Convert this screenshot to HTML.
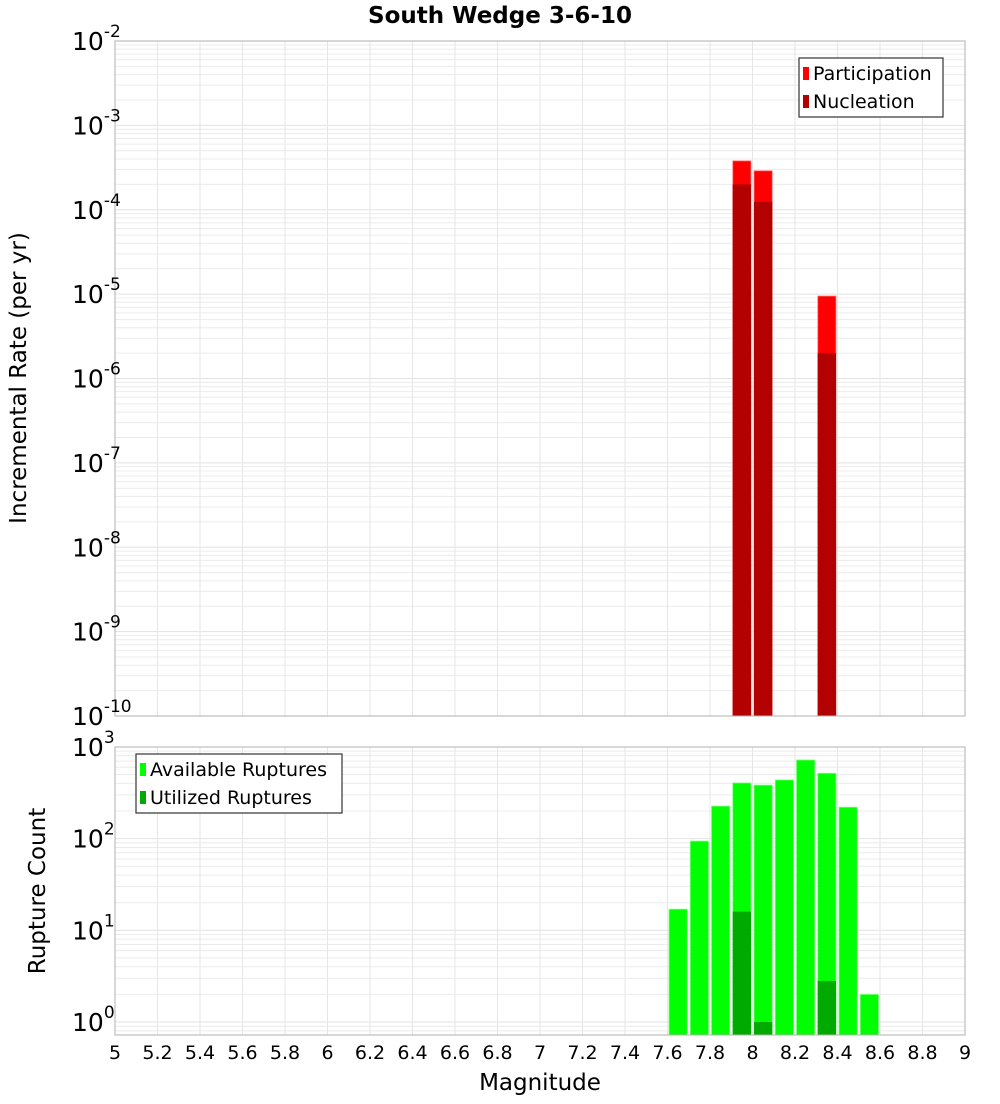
<!DOCTYPE html>
<html><head><meta charset="utf-8"><style>
body{margin:0;background:#fff;font-family:"DejaVu Sans","Liberation Sans",sans-serif;}
</style></head><body>
<svg id="c" width="1000" height="1100" xmlns="http://www.w3.org/2000/svg" font-family="DejaVu Sans, Liberation Sans, sans-serif">
<text x="500" y="23" text-anchor="middle" font-size="23" font-weight="bold">South Wedge 3-6-10</text>
<text transform="translate(26,378) rotate(-90)" text-anchor="middle" font-size="23">Incremental Rate (per yr)</text>
<text transform="translate(45,891) rotate(-90)" text-anchor="middle" font-size="23">Rupture Count</text>
<text x="540" y="1090" text-anchor="middle" font-size="23">Magnitude</text>
</svg>
<script>
const mags = [7.6,7.7,7.8,7.9,8.0,8.1,8.2,8.3,8.4,8.5];
const availCounts = [17,94,226,405,383,436,720,516,220,2];
const utilCounts = [0,0,0,16,1,0,0,2.8,0,0];
const rateMags = [7.9,8.0,8.3];
const participation = [3.8e-4,2.9e-4,9.5e-6];
const nucleation = [2.0e-4,1.24e-4,2.0e-6];
const xTicks = [5,5.2,5.4,5.6,5.8,6,6.2,6.4,6.6,6.8,7,7.2,7.4,7.6,7.8,8,8.2,8.4,8.6,8.8,9];
const topExps = [-2,-3,-4,-5,-6,-7,-8,-9,-10];
const botExps = [3,2,1,0];

const svg = document.getElementById('c');
const NS = 'http://www.w3.org/2000/svg';
function mk(tag, a, parent){const e=document.createElementNS(NS,tag);for(const k in a)e.setAttribute(k,a[k]);(parent||svg).appendChild(e);return e;}
const L=115,R=965;
const x = m => L + (m-5)*(R-L)/4;
const T1=41,B1=716, yTop = v => T1 + (-2 - Math.log10(v))*(B1-T1)/8;
const T2=747,D2=91.7, yBot = v => 1022 - Math.log10(v)*D2;
const B2=1035;

function grid(top,bot,yf,lo,hi,name){
  const g=mk('g',{});
  
  
  for(let e=lo;e<hi;e++){for(let k=1;k<10;k++){const y=yf(k*Math.pow(10,e));if(y<top-0.5||y>bot+0.5)continue;
    mk('line',{x1:L,x2:R,y1:y,y2:y,stroke:k==1?'#e2e2e2':'#ececec','stroke-width':1},g);}}
  for(const t of xTicks){mk('line',{x1:x(t),x2:x(t),y1:top,y2:bot,stroke:'#e6e6e6','stroke-width':1},g);}
}
grid(T1,B1,yTop,-10,-2,'top-grid');
grid(T2,B2,yBot,-1,3,'bottom-grid');

rateMags.forEach((m,i)=>{
  let r=mk('rect',{x:x(m)+1.5,y:yTop(participation[i]),width:x(m+0.1)-x(m)-3,height:B1-yTop(participation[i]),fill:'#ff0000',stroke:'#ff8080','stroke-width':0.8});
  
  
  r=mk('rect',{x:x(m)+1.5,y:yTop(nucleation[i]),width:x(m+0.1)-x(m)-3,height:B1-yTop(nucleation[i]),fill:'#b30000'});
  
  
});
mags.forEach((m,i)=>{
  let r=mk('rect',{x:x(m)+1.5,y:yBot(availCounts[i]),width:x(m+0.1)-x(m)-3,height:B2-yBot(availCounts[i]),fill:'#00ff00',stroke:'#80ff80','stroke-width':0.8});
  
  
  if(utilCounts[i]>0){
    r=mk('rect',{x:x(m)+1.5,y:yBot(utilCounts[i]),width:x(m+0.1)-x(m)-3,height:B2-yBot(utilCounts[i]),fill:'#00aa00'});
    
    
  }
});
let f=mk('rect',{x:L,y:T1,width:R-L,height:B1-T1,fill:'none',stroke:'#b0b0b0'});


f=mk('rect',{x:L,y:T2,width:R-L,height:B2-T2,fill:'none',stroke:'#b0b0b0'});



function ylab(y,e,name){
  const t=mk('text',{x:72,y:y+9,'font-size':25});
  
  
  t.textContent='10';
  const s=mk('tspan',{dy:-13,'font-size':17},t); s.textContent=String(e);
}
topExps.forEach(e=>ylab(yTop(Math.pow(10,e)),e,'top-y-tick-label'));
botExps.forEach(e=>ylab(yBot(Math.pow(10,e)),e,'bottom-y-tick-label'));
xTicks.forEach(t=>{const tx=mk('text',{x:x(t),y:1059,'text-anchor':'middle','font-size':19});
  
  
  tx.textContent=String(t);});

function legend(bx,by,w,items,name){
  const g=mk('g',{});
  
  
  mk('rect',{x:bx,y:by,width:w,height:59,fill:'#fff',stroke:'#333','stroke-width':1.2},g);
  items.forEach((it,i)=>{
    mk('rect',{x:bx+4,y:by+9+i*28,width:6,height:13,fill:it[1]},g);
    const t=mk('text',{x:bx+14,y:by+22+i*28,'font-size':19},g); t.textContent=it[0];
  });
}
legend(799,58,144,[['Participation','#ff0000'],['Nucleation','#b30000']],'top-legend');
legend(136,754,206,[['Available Ruptures','#00ff00'],['Utilized Ruptures','#00aa00']],'bottom-legend');
</script>
</body></html>
